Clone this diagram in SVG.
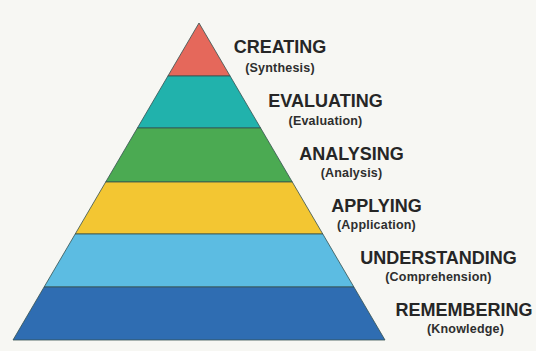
<svg xmlns="http://www.w3.org/2000/svg" width="536" height="351" viewBox="0 0 536 351">
  <style>
    .band { stroke: #35504f; stroke-width: 0.8; stroke-linejoin: round; }
    .title { font-family: "Liberation Sans", Arial, sans-serif; font-weight: bold; font-size: 18px; fill: #262626; text-anchor: middle; }
    .sub { font-family: "Liberation Sans", Arial, sans-serif; font-weight: bold; font-size: 12.5px; fill: #2e2e2e; text-anchor: middle; letter-spacing: 0.2px; }
  </style>
  <rect x="0" y="0" width="536" height="351" fill="#f7f7f3"/>

  <g id="creating">
    <polygon class="band" points="199,23 230.1,76 167.9,76" fill="#e5685b"/>
    <text class="title" x="280" y="53">CREATING</text>
    <text class="sub" x="280" y="72">(Synthesis)</text>
  </g>

  <g id="evaluating">
    <polygon class="band" points="167.9,76 230.1,76 260.6,128 137.4,128" fill="#21b2ac"/>
    <text class="title" x="325.5" y="107">EVALUATING</text>
    <text class="sub" x="325.5" y="125">(Evaluation)</text>
  </g>

  <g id="analysing">
    <polygon class="band" points="137.4,128 260.6,128 292.3,182 105.7,182" fill="#4baa52"/>
    <text class="title" x="351.5" y="160">ANALYSING</text>
    <text class="sub" x="351.5" y="177">(Analysis)</text>
  </g>

  <g id="applying">
    <polygon class="band" points="105.7,182 292.3,182 322.8,234 75.2,234" fill="#f3c632"/>
    <text class="title" x="376.5" y="212">APPLYING</text>
    <text class="sub" x="376.5" y="229">(Application)</text>
  </g>

  <g id="understanding">
    <polygon class="band" points="75.2,234 322.8,234 353.9,287 44.1,287" fill="#5cbce2"/>
    <text class="title" x="438.5" y="264">UNDERSTANDING</text>
    <text class="sub" x="438.5" y="281">(Comprehension)</text>
  </g>

  <g id="remembering">
    <polygon class="band" points="44.1,287 353.9,287 385,340 13,340" fill="#2f6db2"/>
    <text class="title" x="464" y="316">REMEMBERING</text>
    <text class="sub" x="465.5" y="333">(Knowledge)</text>
  </g>
</svg>
